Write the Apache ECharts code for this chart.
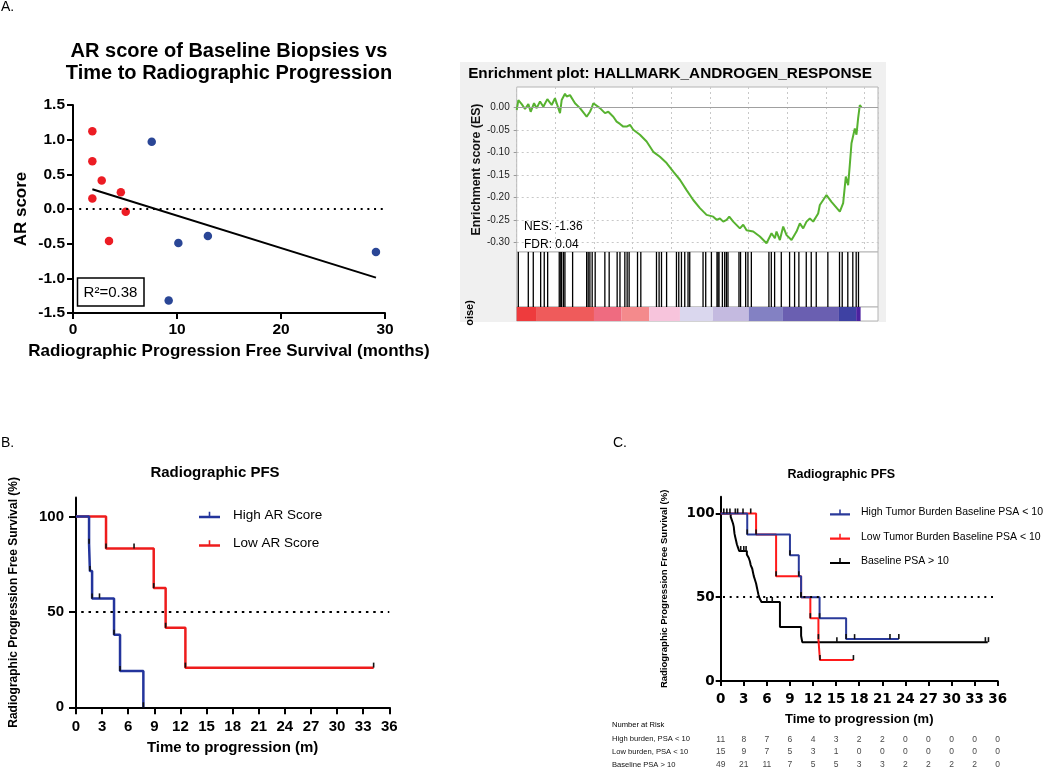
<!DOCTYPE html>
<html><head><meta charset="utf-8">
<script src="https://cdn.jsdelivr.net/npm/echarts@6/dist/echarts.min.js"></script>
<style>html,body{margin:0;padding:0;background:#fff}#c{width:1050px;height:769px}</style>
</head><body><div id="c"></div>
<script>
// ---------- Panel A (left): AR score vs rPFS ----------
const redX = [1.86, 1.86, 1.86, 2.76, 4.6, 5.07, 3.46];
const redY = [1.12, 0.69, 0.15, 0.41, 0.24, -0.04, -0.46];
const blueX = [7.57, 10.13, 12.97, 29.13, 9.2];
const blueY = [0.97, -0.49, -0.39, -0.62, -1.32];
const fitX = [1.86, 29.13];
const fitY = [0.285, -0.99];

// ---------- Panel A (right): GSEA enrichment ----------
const esRank = [0, 86, 259, 431, 603, 724, 897, 1034, 1207, 1379, 1586, 1810, 1983, 2241, 2328, 2500, 2586, 2759, 3017, 3276, 3621, 3793, 3879, 3966, 4052, 4310, 4569, 4741, 5000, 5172, 5345, 5517, 5690, 5862, 6034, 6379, 6724, 7069, 7414, 7759, 8103, 8448, 8793, 9138, 9483, 9827, 10172, 10345, 10517, 10690, 10862, 11000, 11207, 11552, 11724, 11897, 12241, 12586, 12931, 13017, 13190, 13362, 13448, 13621, 13793, 13966, 14224, 14483, 14655, 14828, 15000, 15172, 15345, 15603, 15690, 15862, 16034, 16293, 16724, 16897, 17034, 17155, 17241, 17328, 17500, 17586, 17672, 17759, 17845];
const esScore = [-0.006, 0.016, 0.007, -0.004, 0.007, -0.010, 0.009, -0.002, 0.013, 0.001, 0.018, 0.005, 0.020, -0.013, 0.016, 0.030, 0.024, 0.027, 0.009, -0.002, -0.021, -0.010, -0.002, 0.009, 0.010, -0.002, -0.013, -0.010, -0.021, -0.032, -0.037, -0.043, -0.043, -0.039, -0.050, -0.061, -0.076, -0.099, -0.110, -0.124, -0.143, -0.161, -0.184, -0.206, -0.224, -0.239, -0.243, -0.250, -0.247, -0.254, -0.250, -0.243, -0.254, -0.269, -0.261, -0.273, -0.276, -0.287, -0.302, -0.299, -0.280, -0.291, -0.276, -0.295, -0.265, -0.284, -0.295, -0.276, -0.258, -0.269, -0.254, -0.247, -0.254, -0.236, -0.217, -0.206, -0.195, -0.210, -0.232, -0.213, -0.154, -0.173, -0.128, -0.080, -0.047, -0.061, -0.024, 0.005, 0.000];
const esTicks = [0, -0.05, -0.10, -0.15, -0.20, -0.25, -0.30];
const hitRanks = [83, 600, 858, 1240, 1426, 1602, 2202, 2280, 2326, 2420, 2496, 2894, 3620, 3700, 3788, 3907, 4062, 4563, 4786, 5199, 5345, 5597, 5716, 5819, 6253, 6424, 7235, 7370, 7494, 7758, 8269, 8388, 8527, 8698, 8868, 8956, 9645, 9783, 10078, 10367, 10420, 10471, 10646, 10765, 10853, 10935, 11504, 11585, 11850, 11969, 12145, 13054, 13178, 13349, 13695, 14124, 14383, 14605, 14987, 15245, 15504, 16104, 16708, 16848, 17137, 17396, 17571, 17690];
const heatStart = [0, 1000, 4000, 5430, 6860, 8450, 10150, 12010, 13780, 16680, 17570];
const heatEnd   = [1000, 4000, 5430, 6860, 8450, 10150, 12010, 13780, 16680, 17570, 17800];
const heatColors = ['#ee3b3d', '#ef5b5b', '#ef6b80', '#f48a8c', '#f7c4dc', '#dad7ee', '#c4bae0', '#8381c3', '#6a5fb1', '#3e41a3', '#4c22a0'];
const rankMax = 18700;

// ---------- Panel B: KM by AR score ----------
const highARTime = [0, 1.5, 1.6, 1.85, 4.37, 5.06, 7.74];
const highARSurv = [100, 85.7, 71.4, 57.1, 38.1, 19.0, 0];
const highARCensT = [2.7];
const highARCensS = [57.1];
const lowARTime = [0, 3.45, 8.93, 10.3, 12.57, 34.2];
const lowARSurv = [100, 83.3, 62.5, 41.7, 20.8, 20.8];
const lowARCensT = [6.67, 34.2];
const lowARCensS = [83.3, 20.8];

// ---------- Panel C: KM by tumor burden / PSA ----------
const highTBTime = [0, 3.45, 9.0, 10.15, 10.45, 12.85, 16.3, 23.15];
const highTBSurv = [100, 87.5, 75, 62.5, 50, 37.5, 25, 25];
const highTBCensT = [1.9, 2.9, 17.4, 22.0, 23.15];
const highTBCensS = [100, 100, 25, 25, 25];
const lowTBTime = [0, 4.6, 7.2, 10.45, 11.65, 12.7, 12.9, 17.25];
const lowTBSurv = [100, 87.5, 62.5, 50, 37.5, 25, 12.5, 12.5];
const lowTBCensT = [2.2, 3.9, 17.25];
const lowTBCensS = [100, 100, 12.5];
const basePSATime = [0, 1.3, 1.45, 1.6, 1.7, 1.75, 1.8, 1.9, 2.0, 2.1, 2.25, 2.4, 3.4, 3.65, 3.8, 3.9, 4.1, 4.2, 4.3, 4.45, 4.6, 4.7, 4.8, 4.9, 5.05, 5.3, 7.7, 10.45, 10.6, 34.7];
const basePSASurv = [100, 98, 96, 94, 92, 89.8, 87.8, 85.7, 83.7, 81.6, 79.6, 77.6, 75.5, 73.4, 71.3, 69.2, 67, 64.8, 62.6, 60.4, 58.2, 56, 53.8, 51.6, 49.4, 47.2, 32.2, 27.0, 23.2, 23.2];
const basePSACensT = [0.4, 0.8, 1.2, 2.6, 3.0, 3.3, 6.0, 6.7, 15.1, 34.4, 34.8];
const basePSACensS = [100, 100, 100, 77.6, 77.6, 77.6, 47.2, 47.2, 23.2, 23.2, 23.2];
const survTicks = [0, 50, 100];
const medianLevel = 50;

// Number at risk table
const riskTimes = [0, 3, 6, 9, 12, 15, 18, 21, 24, 27, 30, 33, 36];
const riskRows = ['High burden, PSA < 10', 'Low burden, PSA < 10', 'Baseline PSA > 10'];
const riskHigh = [11, 8, 7, 6, 4, 3, 2, 2, 0, 0, 0, 0, 0];
const riskLow = [15, 9, 7, 5, 3, 1, 0, 0, 0, 0, 0, 0, 0];
const riskBase = [49, 21, 11, 7, 5, 5, 3, 3, 2, 2, 2, 2, 0];

// ---------- helpers ----------
const FONT = '"Liberation Sans", Arial, Helvetica, sans-serif';
const DJ = '"DejaVu Sans", sans-serif';
const zip = (a, b) => a.map((v, i) => [v, b[i]]);
const stepEvents = (t, s) => zip(t, s).filter((p, i) => i > 0 && s[i] < s[i - 1]);
const TICK_ICON = 'path://M0,4L21,4L21,6.3L0,6.3Z M9.7,0L11.3,0L11.3,4L9.7,4Z';
const blackAxisLine = { show: true, onZero: false, lineStyle: { color: '#000', width: 2 } };

function kmLine(name, t, s, color, xi, width) {
  return {
    type: 'line', name, xAxisIndex: xi, yAxisIndex: xi, step: 'end',
    data: zip(t, s), symbol: 'none', color: color,
    lineStyle: { color, width }, silent: true, animation: false
  };
}
function ticks(name, data, xi) {
  return {
    type: 'scatter', name, xAxisIndex: xi, yAxisIndex: xi, data,
    symbol: 'rect', symbolSize: [1.6, 5], symbolOffset: [0, -2.5],
    itemStyle: { color: '#111', opacity: 1 }, silent: true, animation: false, z: 4
  };
}
function txt(x, y, text, font, align, extra) {
  return Object.assign({
    type: 'text', x, y,
    style: { text, font, fill: '#000', textAlign: align || 'left', textVerticalAlign: 'middle', align: align || 'left', verticalAlign: 'middle' }
  }, extra || {});
}

const riskData = [];
[riskHigh, riskLow, riskBase].forEach((row, r) => row.forEach((v, i) => riskData.push([riskTimes[i], riskRows[r], v])));

const chart = echarts.init(document.getElementById('c'), null, { renderer: 'canvas' });
const option = {
  backgroundColor: '#fff',
  animation: false,
  textStyle: { fontFamily: FONT },
  grid: [
    { left: 73, top: 105, width: 312, height: 208 },
    { left: 516.7, top: 87, width: 361.3, height: 165, show: true, backgroundColor: '#fff', borderColor: '#b4b4b4', borderWidth: 1 },
    { left: 516.7, top: 252, width: 361.3, height: 55, show: true, backgroundColor: '#fff', borderColor: '#b4b4b4', borderWidth: 1 },
    { left: 516.7, top: 307, width: 361.3, height: 14, show: true, backgroundColor: '#fff', borderColor: '#b4b4b4', borderWidth: 1 },
    { left: 76, top: 497.5, width: 313.3, height: 209.8 },
    { left: 720.7, top: 496.7, width: 277, height: 184.3 },
    { left: 720.7, top: 739.3, width: 277, height: 25.7 }
  ],
  xAxis: [
    { gridIndex: 0, type: 'value', min: 0, max: 30, interval: 10, axisLine: blackAxisLine,
      axisTick: { show: true, length: 6, lineStyle: { color: '#000', width: 2 } },
      axisLabel: { fontFamily: FONT, fontWeight: 'bold', fontSize: 15.5, color: '#000', margin: 9 },
      splitLine: { show: false },
      name: 'Radiographic Progression Free Survival (months)', nameLocation: 'middle', nameGap: 30,
      nameTextStyle: { fontFamily: FONT, fontWeight: 'bold', fontSize: 17, color: '#000' } },
    { gridIndex: 1, type: 'value', min: 0, max: rankMax, interval: 2000, axisLine: { show: false }, axisTick: { show: false }, axisLabel: { show: false },
      splitLine: { show: true, lineStyle: { color: '#c8c8c8', type: [2, 3], width: 1 } } },
    { gridIndex: 2, type: 'value', min: 0, max: rankMax, show: false },
    { gridIndex: 3, type: 'value', min: 0, max: rankMax, show: false },
    { gridIndex: 4, type: 'value', min: 0, max: 36, interval: 3, axisLine: blackAxisLine,
      axisTick: { show: true, length: 7, lineStyle: { color: '#000', width: 2 } },
      axisLabel: { fontFamily: FONT, fontWeight: 'bold', fontSize: 15, color: '#000', margin: 12 },
      splitLine: { show: false },
      name: 'Time to progression (m)', nameLocation: 'middle', nameGap: 33,
      nameTextStyle: { fontFamily: FONT, fontWeight: 'bold', fontSize: 15, color: '#000' } },
    { gridIndex: 5, type: 'value', min: 0, max: 36, interval: 3, axisLine: blackAxisLine,
      axisTick: { show: true, length: 5, lineStyle: { color: '#000', width: 2 } },
      axisLabel: { fontFamily: DJ, fontWeight: 'bold', fontSize: 13.5, color: '#000', margin: 11 },
      splitLine: { show: false },
      name: 'Time to progression (m)', nameLocation: 'middle', nameGap: 32,
      nameTextStyle: { fontFamily: FONT, fontWeight: 'bold', fontSize: 13, color: '#000' } },
    { gridIndex: 6, type: 'value', min: 0, max: 36, show: false }
  ],
  yAxis: [
    { gridIndex: 0, type: 'value', min: -1.5, max: 1.5, interval: 0.5, axisLine: blackAxisLine,
      axisTick: { show: true, length: 6, lineStyle: { color: '#000', width: 2 } },
      axisLabel: { fontFamily: FONT, fontWeight: 'bold', fontSize: 15.5, color: '#000', margin: 8, formatter: v => v.toFixed(1) },
      splitLine: { show: false },
      name: 'AR score', nameLocation: 'middle', nameGap: 43, nameRotate: 90,
      nameTextStyle: { fontFamily: FONT, fontWeight: 'bold', fontSize: 17, color: '#000' } },
    { gridIndex: 1, type: 'value', min: -0.3215, max: 0.045, axisLine: { show: false },
      axisTick: { show: true, length: 3, customValues: esTicks, lineStyle: { color: '#999' } },
      axisLabel: { customValues: esTicks, formatter: v => v.toFixed(2), fontFamily: FONT, fontSize: 10, color: '#222', margin: 7 },
      splitLine: { show: true, lineStyle: { color: '#c8c8c8', type: [2, 3], width: 1 } },
      name: 'Enrichment score (ES)', nameLocation: 'middle', nameGap: 34, nameRotate: 90,
      nameTextStyle: { fontFamily: FONT, fontWeight: 'bold', fontSize: 12.3, color: '#111' } },
    { gridIndex: 2, type: 'value', min: 0, max: 1, show: false },
    { gridIndex: 3, type: 'value', min: 0, max: 1, show: false },
    { gridIndex: 4, type: 'value', min: 0, max: 110, axisLine: blackAxisLine,
      axisTick: { show: true, length: 7, customValues: survTicks, lineStyle: { color: '#000', width: 2 } },
      axisLabel: { customValues: survTicks, fontFamily: FONT, fontWeight: 'bold', fontSize: 15, color: '#000', margin: 12 },
      splitLine: { show: false },
      name: 'Radiographic Progression Free Survival (%)', nameLocation: 'middle', nameGap: 56, nameRotate: 90,
      nameTextStyle: { fontFamily: FONT, fontWeight: 'bold', fontSize: 12, color: '#000' } },
    { gridIndex: 5, type: 'value', min: 0, max: 110, axisLine: blackAxisLine,
      axisTick: { show: true, length: 5, customValues: survTicks, lineStyle: { color: '#000', width: 2 } },
      axisLabel: { customValues: survTicks, fontFamily: DJ, fontWeight: 'bold', fontSize: 13.5, color: '#000', margin: 6 },
      splitLine: { show: false },
      name: 'Radiographic Progression Free Survival (%)', nameLocation: 'middle', nameGap: 51, nameRotate: 90,
      nameTextStyle: { fontFamily: FONT, fontWeight: 'bold', fontSize: 9.5, color: '#000' } },
    { gridIndex: 6, type: 'category', data: riskRows, inverse: true, boundaryGap: false,
      axisLine: { show: false }, axisTick: { show: false }, splitLine: { show: false },
      axisLabel: { align: 'left', margin: 108.7, fontFamily: FONT, fontSize: 7.6, color: '#111' } }
  ],
  legend: [
    { data: [{ name: 'High AR Score' }, { name: 'Low AR Score' }], orient: 'vertical', left: 194, top: 503,
      icon: TICK_ICON, itemWidth: 21, itemHeight: 6.3, itemGap: 14.5, selectedMode: false,
      textStyle: { fontFamily: FONT, fontSize: 13.5, color: '#000', padding: [0, 0, 0, 8] } },
    { data: [{ name: 'High Tumor Burden Baseline PSA < 10' }, { name: 'Low Tumor Burden Baseline PSA < 10' }, { name: 'Baseline PSA > 10' }],
      orient: 'vertical', left: 825, top: 502, icon: TICK_ICON, itemWidth: 20, itemHeight: 6, itemGap: 13.3, selectedMode: false,
      textStyle: { fontFamily: FONT, fontSize: 10.5, color: '#000', padding: [0, 0, 0, 6] } }
  ],
  series: [
    // Panel A scatter
    { type: 'scatter', name: 'red group', xAxisIndex: 0, yAxisIndex: 0, data: zip(redX, redY), symbolSize: 8.5,
      itemStyle: { color: '#ec1c24', opacity: 1 }, silent: true,
      markLine: { silent: true, symbol: 'none', label: { show: false }, lineStyle: { color: '#000', type: [2, 4.7], width: 2 },
        data: [[{ coord: [0.6, 0] }, { coord: [30, 0] }]] } },
    { type: 'scatter', name: 'blue group', xAxisIndex: 0, yAxisIndex: 0, data: zip(blueX, blueY), symbolSize: 8.5,
      itemStyle: { color: '#2a4696', opacity: 1 }, silent: true },
    { type: 'line', name: 'fit', xAxisIndex: 0, yAxisIndex: 0, data: zip(fitX, fitY), symbol: 'none',
      lineStyle: { color: '#000', width: 2 }, silent: true },
    // Enrichment curve
    { type: 'line', name: 'ES', xAxisIndex: 1, yAxisIndex: 1, data: zip(esRank, esScore), symbol: 'none',
      lineStyle: { color: '#57b230', width: 2 }, silent: true, z: 3,
      markLine: { silent: true, symbol: 'none', label: { show: false }, lineStyle: { color: '#a0a0a0', type: 'solid', width: 1 }, data: [{ yAxis: 0 }] } },
    // gene hits
    { type: 'custom', name: 'hits', xAxisIndex: 2, yAxisIndex: 2, data: hitRanks.map(r => [r]), silent: true,
      renderItem: (params, api) => {
        const p0 = api.coord([api.value(0), 0]);
        const p1 = api.coord([api.value(0), 1]);
        return { type: 'line', shape: { x1: p0[0], y1: p0[1], x2: p1[0], y2: p1[1] }, style: { stroke: '#000', lineWidth: 1.3 } };
      } },
    // ranked metric heat strip
    { type: 'custom', name: 'heat', xAxisIndex: 3, yAxisIndex: 3, data: heatStart.map((s, i) => [s, heatEnd[i], i]), silent: true,
      renderItem: (params, api) => {
        const a = api.coord([api.value(0), 1]);
        const b = api.coord([api.value(1), 0]);
        return { type: 'rect', shape: { x: a[0], y: a[1], width: b[0] - a[0], height: b[1] - a[1] }, style: { fill: heatColors[api.value(2)] } };
      } },
    // Panel B
    Object.assign(kmLine('Low AR Score', lowARTime, lowARSurv, '#ee1c1c', 4, 2.5), {
      markLine: { silent: true, symbol: 'none', label: { show: false }, lineStyle: { color: '#000', type: [2.5, 4.8], width: 2 },
        data: [[{ coord: [0.6, medianLevel] }, { coord: [36, medianLevel] }]] } }),
    kmLine('High AR Score', highARTime, highARSurv, '#23349c', 4, 2.5),
    ticks('cens highAR', zip(highARCensT, highARCensS), 4),
    ticks('cens lowAR', zip(lowARCensT, lowARCensS), 4),
    ticks('events highAR', stepEvents(highARTime, highARSurv), 4),
    ticks('events lowAR', stepEvents(lowARTime, lowARSurv), 4),
    // Panel C
    Object.assign(kmLine('Baseline PSA > 10', basePSATime, basePSASurv, '#000', 5, 2), {
      markLine: { silent: true, symbol: 'none', label: { show: false }, lineStyle: { color: '#000', type: [2, 4.7], width: 2 },
        data: [[{ coord: [0.3, medianLevel] }, { coord: [35.5, medianLevel] }]] } }),
    kmLine('Low Tumor Burden Baseline PSA < 10', lowTBTime, lowTBSurv, '#ff1a1a', 5, 2),
    kmLine('High Tumor Burden Baseline PSA < 10', highTBTime, highTBSurv, '#2a3a9a', 5, 2),
    ticks('cens base', zip(basePSACensT, basePSACensS), 5),
    ticks('cens lowTB', zip(lowTBCensT, lowTBCensS), 5),
    ticks('cens highTB', zip(highTBCensT, highTBCensS), 5),
    ticks('events lowTB', stepEvents(lowTBTime, lowTBSurv), 5),
    ticks('events highTB', stepEvents(highTBTime, highTBSurv), 5),
    // number at risk
    { type: 'scatter', name: 'risk', xAxisIndex: 6, yAxisIndex: 6, data: riskData, symbolSize: 0, silent: true,
      label: { show: true, position: 'inside', formatter: p => String(p.value[2]), fontFamily: FONT, fontSize: 8.5, color: '#111' } }
  ],
  graphic: [
    { type: 'rect', z: -10, shape: { x: 460, y: 62, width: 426, height: 260 }, style: { fill: '#f0f0f0' } },
    txt(1, 7, 'A.', '14px ' + FONT),
    txt(1, 443, 'B.', '14px ' + FONT),
    txt(613, 443, 'C.', '14px ' + FONT),
    txt(229, 51, 'AR score of Baseline Biopsies vs', 'bold 20px ' + FONT, 'center'),
    txt(229, 73.5, 'Time to Radiographic Progression', 'bold 20px ' + FONT, 'center'),
    txt(670, 74, 'Enrichment plot: HALLMARK_ANDROGEN_RESPONSE', 'bold 15.3px ' + FONT, 'center', { z: 5 }),
    txt(524, 227, 'NES: -1.36', '12px ' + FONT, 'left', { z: 50 }),
    txt(524, 244.5, 'FDR: 0.04', '12px ' + FONT, 'left', { z: 50 }),
    txt(470, 313, 'oise)', 'bold 11px ' + FONT, 'center', { rotation: Math.PI / 2, z: 5 }),
    { type: 'rect', z: 10, shape: { x: 77.5, y: 278, width: 66.5, height: 28 }, style: { fill: '#fff', stroke: '#000', lineWidth: 1.5 } },
    txt(110.5, 293, 'R²=0.38', '15px ' + FONT, 'center', { z: 11 }),
    txt(215, 473, 'Radiographic PFS', 'bold 15px ' + FONT, 'center'),
    txt(841.3, 475, 'Radiographic PFS', 'bold 12.5px ' + FONT, 'center'),
    txt(612, 725, 'Number at Risk', '7.6px ' + FONT)
  ]
};
chart.setOption(option);
</script>
</body></html>
